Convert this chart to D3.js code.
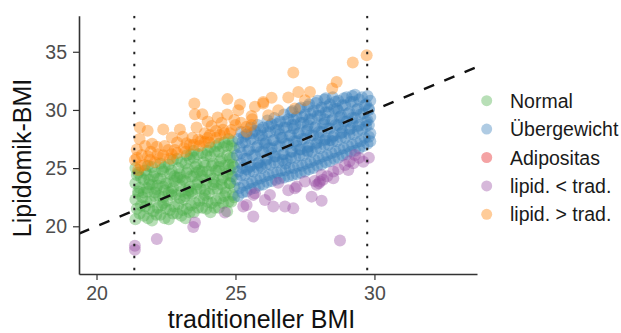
<!DOCTYPE html>
<html>
<head>
<meta charset="utf-8">
<script src="https://cdn.jsdelivr.net/npm/d3@7"></script>
<style>
    body { margin: 0; background: #fff; }
    svg { display: block; font-family: 'Liberation Sans', Arial, sans-serif; }
</style>
</head>
<body>
<svg id="chart"></svg>
<script>
// [traditioneller BMI, Lipidomik-BMI]
const normalPoints = [
    [21.4, 20.6], [21.45, 21.5], [21.4, 22.3], [21.5, 23.0], [21.4, 23.7], [21.45, 24.4], [21.4, 25.0],
    [21.7, 20.9], [21.75, 21.7], [21.65, 22.5], [21.8, 23.3], [21.7, 24.0], [21.75, 24.8],
    [22.0, 20.5], [22.05, 21.3], [21.95, 22.1], [22.1, 22.9], [22.0, 23.6], [22.05, 24.3], [22.0, 25.1],
    [22.3, 21.0], [22.35, 21.8], [22.25, 22.6], [22.4, 23.4], [22.3, 24.1], [22.35, 24.9], [22.3, 25.4],
    [22.6, 20.6], [22.65, 21.4], [22.55, 22.2], [22.7, 23.0], [22.6, 23.8], [22.65, 24.5], [22.6, 25.3],
    [22.9, 21.1], [22.95, 21.9], [22.85, 22.7], [23.0, 23.5], [22.9, 24.2], [22.95, 25.0], [22.9, 25.8],
    [23.2, 20.7], [23.25, 21.5], [23.15, 22.3], [23.3, 23.1], [23.2, 23.9], [23.25, 24.6], [23.2, 25.4], [23.25, 26.1],
    [23.5, 21.2], [23.55, 22.0], [23.45, 22.8], [23.6, 23.6], [23.5, 24.3], [23.55, 25.1], [23.5, 25.9], [23.5, 26.5],
    [23.8, 21.6], [23.85, 22.4], [23.75, 23.2], [23.9, 24.0], [23.8, 24.7], [23.85, 25.5], [23.8, 26.3],
    [24.1, 21.2], [24.15, 22.0], [24.05, 22.8], [24.2, 23.6], [24.1, 24.4], [24.15, 25.2], [24.1, 26.0], [24.1, 26.8],
    [24.4, 21.6], [24.45, 22.4], [24.35, 23.2], [24.5, 24.0], [24.4, 24.8], [24.45, 25.6], [24.4, 26.4], [24.4, 27.1],
    [24.7, 21.3], [24.75, 22.1], [24.65, 22.9], [24.8, 23.7], [24.7, 24.5], [24.75, 25.3], [24.7, 26.1], [24.7, 26.9], [24.75, 27.5],
    [24.95, 22.5], [24.95, 23.4], [24.9, 24.3], [24.95, 25.1], [24.9, 25.9], [24.95, 26.7],
    [21.55, 21.1], [21.6, 21.8], [21.5, 22.8], [21.55, 23.3], [21.6, 24.2], [21.5, 24.6],
    [21.85, 20.7], [21.9, 21.5], [21.8, 22.1], [21.85, 23.0], [21.9, 23.6], [21.8, 24.5], [21.85, 25.2],
    [22.15, 21.0], [22.2, 21.6], [22.1, 22.6], [22.15, 23.2], [22.2, 24.1], [22.1, 24.6],
    [22.45, 20.7], [22.5, 21.5], [22.4, 22.0], [22.45, 23.1], [22.5, 23.7], [22.4, 24.7], [22.45, 25.1],
    [22.75, 21.1], [22.8, 21.7], [22.7, 22.7], [22.75, 23.3], [22.8, 24.3], [22.7, 24.8], [22.75, 25.7],
    [23.05, 20.9], [23.1, 21.4], [23.0, 22.4], [23.05, 23.0], [23.1, 24.0], [23.0, 24.5], [23.05, 25.5],
    [23.35, 21.2], [23.4, 21.8], [23.3, 22.8], [23.35, 23.4], [23.4, 24.3], [23.3, 24.9], [23.35, 25.8], [23.4, 26.2],
    [23.65, 21.6], [23.7, 22.2], [23.6, 23.2], [23.65, 23.8], [23.7, 24.8], [23.6, 25.3], [23.65, 26.2],
    [23.95, 21.5], [24.0, 22.1], [23.9, 23.1], [23.95, 23.7], [24.0, 24.7], [23.9, 25.2], [23.95, 26.1], [24.0, 26.5],
    [24.25, 21.6], [24.3, 22.2], [24.2, 23.2], [24.25, 23.8], [24.3, 24.8], [24.2, 25.4], [24.25, 26.4], [24.3, 26.9],
    [24.55, 22.0], [24.6, 22.6], [24.5, 23.6], [24.55, 24.2], [24.6, 25.2], [24.5, 25.8], [24.55, 26.8], [24.6, 27.2],
    [24.85, 22.1], [24.9, 22.7], [24.8, 23.7], [24.85, 24.3], [24.9, 25.3], [24.8, 25.9], [24.85, 26.9], [24.9, 27.3],
    [21.7, 22.9], [22.2, 23.5], [22.6, 22.9], [23.0, 24.2], [23.4, 23.0], [23.8, 24.3], [24.2, 24.1], [24.6, 23.3],
    [21.9, 24.0], [22.4, 22.5], [23.2, 22.6], [23.9, 22.7], [24.4, 25.1], [22.8, 23.9], [23.6, 24.6], [24.8, 24.9]
];
const uebergewichtPoints = [
    [25.1, 22.6], [25.15, 23.3], [25.05, 24.0], [25.1, 24.7], [25.2, 25.4], [25.05, 26.1], [25.15, 26.8], [25.1, 27.5], [25.2, 28.1],
    [25.4, 23.0], [25.45, 23.7], [25.35, 24.4], [25.5, 25.1], [25.4, 25.8], [25.45, 26.5], [25.35, 27.2], [25.4, 27.9],
    [25.7, 23.3], [25.75, 24.0], [25.65, 24.7], [25.8, 25.4], [25.7, 26.1], [25.75, 26.8], [25.65, 27.5], [25.7, 28.2], [25.8, 28.7],
    [26.0, 23.6], [26.05, 24.3], [25.95, 25.0], [26.1, 25.7], [26.0, 26.4], [26.05, 27.1], [25.95, 27.8], [26.0, 28.5],
    [26.3, 23.9], [26.35, 24.6], [26.25, 25.3], [26.4, 26.0], [26.3, 26.7], [26.35, 27.4], [26.25, 28.1], [26.3, 28.8], [26.4, 29.3],
    [26.6, 24.1], [26.65, 24.8], [26.55, 25.5], [26.7, 26.2], [26.6, 26.9], [26.65, 27.6], [26.55, 28.3], [26.6, 29.0],
    [26.9, 24.3], [26.95, 25.0], [26.85, 25.7], [27.0, 26.4], [26.9, 27.1], [26.95, 27.8], [26.85, 28.5], [26.9, 29.2], [27.0, 29.8],
    [27.2, 24.5], [27.25, 25.2], [27.15, 25.9], [27.3, 26.6], [27.2, 27.3], [27.25, 28.0], [27.15, 28.7], [27.2, 29.4], [27.3, 30.1],
    [27.5, 24.7], [27.55, 25.4], [27.45, 26.1], [27.6, 26.8], [27.5, 27.5], [27.55, 28.2], [27.45, 28.9], [27.5, 29.6], [27.6, 30.3],
    [27.8, 25.0], [27.85, 25.7], [27.75, 26.4], [27.9, 27.1], [27.8, 27.8], [27.85, 28.5], [27.75, 29.2], [27.8, 29.9], [27.9, 30.6],
    [28.1, 25.3], [28.15, 26.0], [28.05, 26.7], [28.2, 27.4], [28.1, 28.1], [28.15, 28.8], [28.05, 29.5], [28.1, 30.2], [28.2, 30.9],
    [28.4, 25.6], [28.45, 26.3], [28.35, 27.0], [28.5, 27.7], [28.4, 28.4], [28.45, 29.1], [28.35, 29.8], [28.4, 30.5], [28.5, 31.1],
    [28.7, 25.9], [28.75, 26.6], [28.65, 27.3], [28.8, 28.0], [28.7, 28.7], [28.75, 29.4], [28.65, 30.1], [28.7, 30.8],
    [29.0, 26.2], [29.05, 26.9], [28.95, 27.6], [29.1, 28.3], [29.0, 29.0], [29.05, 29.7], [28.95, 30.4], [29.0, 31.1],
    [29.3, 26.5], [29.35, 27.2], [29.25, 27.9], [29.4, 28.6], [29.3, 29.3], [29.35, 30.0], [29.25, 30.7], [29.3, 31.3],
    [29.6, 26.9], [29.65, 27.6], [29.55, 28.3], [29.7, 29.0], [29.6, 29.7], [29.65, 30.4], [29.55, 31.1],
    [29.85, 27.3], [29.85, 28.0], [29.8, 28.7], [29.85, 29.4], [29.8, 30.1], [29.85, 30.8],
    [25.25, 22.9], [25.3, 23.5], [25.2, 24.4], [25.25, 25.0], [25.3, 25.8], [25.2, 26.3], [25.25, 27.2], [25.3, 27.7],
    [25.55, 23.2], [25.6, 23.8], [25.5, 24.7], [25.55, 25.2], [25.6, 26.1], [25.5, 26.6], [25.55, 27.5], [25.6, 28.0], [25.55, 28.5],
    [25.85, 23.5], [25.9, 24.1], [25.8, 25.0], [25.85, 25.5], [25.9, 26.4], [25.8, 26.9], [25.85, 27.8], [25.9, 28.3],
    [26.15, 23.8], [26.2, 24.4], [26.1, 25.3], [26.15, 25.8], [26.2, 26.7], [26.1, 27.2], [26.15, 28.1], [26.2, 28.6], [26.15, 29.1],
    [26.45, 24.0], [26.5, 24.6], [26.4, 25.5], [26.45, 26.0], [26.5, 26.9], [26.4, 27.4], [26.45, 28.3], [26.5, 28.8],
    [26.75, 24.2], [26.8, 24.8], [26.7, 25.7], [26.75, 26.2], [26.8, 27.1], [26.7, 27.6], [26.75, 28.5], [26.8, 29.0], [26.75, 29.6],
    [27.05, 24.4], [27.1, 25.0], [27.0, 25.9], [27.05, 26.4], [27.1, 27.3], [27.0, 27.8], [27.05, 28.7], [27.1, 29.2], [27.05, 29.9],
    [27.35, 24.6], [27.4, 25.2], [27.3, 26.1], [27.35, 26.6], [27.4, 27.5], [27.3, 28.0], [27.35, 28.9], [27.4, 29.4], [27.35, 30.2],
    [27.65, 24.9], [27.7, 25.5], [27.6, 26.4], [27.65, 26.9], [27.7, 27.8], [27.6, 28.3], [27.65, 29.2], [27.7, 29.7], [27.65, 30.5],
    [27.95, 25.2], [28.0, 25.8], [27.9, 26.7], [27.95, 27.2], [28.0, 28.1], [27.9, 28.6], [27.95, 29.5], [28.0, 30.0], [27.95, 30.8],
    [28.25, 25.5], [28.3, 26.1], [28.2, 27.0], [28.25, 27.5], [28.3, 28.4], [28.2, 28.9], [28.25, 29.8], [28.3, 30.3], [28.25, 31.0],
    [28.55, 25.8], [28.6, 26.4], [28.5, 27.3], [28.55, 27.8], [28.6, 28.7], [28.5, 29.2], [28.55, 30.1], [28.6, 30.7],
    [28.85, 26.1], [28.9, 26.7], [28.8, 27.6], [28.85, 28.1], [28.9, 29.0], [28.8, 29.5], [28.85, 30.4], [28.9, 31.0],
    [29.15, 26.4], [29.2, 27.0], [29.1, 27.9], [29.15, 28.4], [29.2, 29.3], [29.1, 29.8], [29.15, 30.7], [29.2, 31.2],
    [29.45, 26.7], [29.5, 27.3], [29.4, 28.2], [29.45, 28.7], [29.5, 29.6], [29.4, 30.1], [29.45, 30.9],
    [29.75, 27.1], [29.8, 27.7], [29.7, 28.6], [29.75, 29.1], [29.8, 30.0], [29.7, 30.5], [29.75, 31.2],
    [25.4, 24.9], [25.9, 25.2], [26.3, 26.3], [26.8, 25.4], [27.2, 26.9], [27.6, 26.5], [28.0, 27.6], [28.4, 27.4],
    [28.8, 28.5], [29.2, 28.9], [26.0, 27.4], [26.6, 27.9], [27.1, 28.4], [27.6, 28.7], [28.2, 29.2], [28.7, 29.9]
];
const adipositasPoints = [];
const lipidLowerPoints = [
    [24.62, 21.18], [23.54, 20.33], [23.48, 19.93], [22.17, 18.9], [21.38, 18.33], [21.38, 17.99],
    [25.28, 21.7], [25.64, 20.84], [25.64, 22.7], [26.54, 23.75], [27.2, 23.41], [27.5, 23.84],
    [28.04, 23.84], [28.1, 24.41], [28.52, 24.7], [28.94, 25.27], [29.3, 26.13], [29.24, 25.42],
    [29.6, 25.55], [29.06, 24.84], [28.52, 24.13], [27.74, 22.55], [28.1, 22.19], [25.7, 22.84],
    [26.06, 22.27], [26.24, 22.7], [26.36, 21.7], [26.78, 21.7], [27.08, 21.56], [25.4, 21.84],
    [28.76, 18.78], [27.14, 23.27], [27.92, 23.56], [28.0, 23.7], [28.15, 24.0], [29.8, 25.9],
    [28.3, 24.3], [28.7, 24.9], [29.1, 25.6], [29.45, 25.9], [27.85, 23.9], [26.9, 23.1]
];
const lipidHigherPoints = [
    [23.52, 30.56], [24.71, 30.93], [25.16, 30.47], [23.54, 29.64], [23.81, 29.64], [24.36, 29.36],
    [25.1, 29.98], [24.96, 29.13], [21.56, 28.5], [21.84, 28.21], [22.4, 28.33], [23.0, 28.33],
    [23.6, 28.5], [24.14, 28.61], [22.71, 27.64], [24.08, 27.84], [24.86, 28.27], [23.24, 27.13],
    [23.66, 27.47], [22.17, 26.84], [22.58, 26.56], [21.63, 26.13], [25.58, 29.47], [25.4, 28.12],
    [26.0, 30.69], [26.3, 31.04], [21.5, 24.84], [21.74, 25.27], [21.38, 25.7], [21.92, 25.7],
    [22.28, 25.87], [22.82, 26.56], [23.36, 26.98], [23.9, 27.24], [24.44, 27.84],
    [27.08, 33.21], [29.22, 34.07], [29.72, 34.7], [28.64, 32.41], [28.48, 31.84], [27.26, 31.55],
    [27.68, 31.55], [26.9, 31.07], [27.5, 30.84], [26.0, 30.56], [25.7, 30.27], [26.54, 29.98],
    [27.14, 30.13], [26.18, 29.55], [25.58, 28.7], [25.4, 28.55],
    [22.0, 27.1], [23.1, 27.7], [23.9, 28.0], [24.5, 28.9], [24.0, 29.0],
    [21.45, 26.6], [21.55, 27.5], [21.75, 26.9], [21.95, 26.4], [22.2, 26.2], [22.45, 26.9],
    [22.7, 26.2], [22.9, 27.2], [23.15, 26.7], [23.45, 27.6], [23.7, 26.9], [24.0, 27.6],
    [24.3, 28.2], [24.6, 28.0], [24.7, 29.6], [25.0, 28.7],
    [21.45, 25.9], [21.6, 25.2], [21.85, 26.0], [22.1, 25.5], [22.4, 26.1], [22.65, 25.8],
    [22.9, 26.3], [23.2, 26.4], [23.5, 27.0], [23.75, 27.3], [24.05, 27.2], [24.3, 27.6],
    [24.55, 28.3], [24.8, 28.0], [25.2, 28.9], [25.6, 29.2]
];

const groupNames = ['Normal', 'Übergewicht', 'Adipositas', 'lipid. < trad.', 'lipid. > trad.'];
const groupColors = ['#4daf4a', '#377eb8', '#e41a1c', '#984ea3', '#ff7f00'];
const cutoffs = [21.36, 29.74];
const xTicks = [20, 25, 30];
const yTicks = [20, 25, 30, 35];

const margin = { top: 15.7, right: 144, bottom: 59, left: 79 };
const w = 621;
const h = 333;
const width = w - margin.left - margin.right;
const height = h - margin.top - margin.bottom;

const root = d3.select('#chart').attr('width', w).attr('height', h);
const svg = root.append('g')
    .attr('transform', 'translate(' + margin.left + ',' + margin.top + ')');

const x = d3.scaleLinear().domain([19.37, 33.69]).range([0, width]);
const y = d3.scaleLinear().domain([15.9, 38.1]).range([height, 0]);
const color = d3.scaleOrdinal().domain(groupNames).range(groupColors);

svg.append('clipPath').attr('id', 'panel')
    .append('rect').attr('width', width).attr('height', height);

const plot = svg.append('g').attr('clip-path', 'url(#panel)');

const groups = [
    { name: 'Normal', points: normalPoints },
    { name: 'Übergewicht', points: uebergewichtPoints },
    { name: 'Adipositas', points: adipositasPoints },
    { name: 'lipid. < trad.', points: lipidLowerPoints },
    { name: 'lipid. > trad.', points: lipidHigherPoints }
];

groups.forEach(function(g) {
    plot.append('g').selectAll('circle')
        .data(g.points)
        .enter().append('circle')
        .attr('cx', function(d) { return x(d[0]); })
        .attr('cy', function(d) { return y(d[1]); })
        .attr('r', 6)
        .attr('fill', color(g.name))
        .attr('fill-opacity', 0.4);
});

// identity line
const line = d3.line().x(function(d) { return x(d); }).y(function(d) { return y(d); });
plot.append('path')
    .datum(x.domain())
    .attr('d', line)
    .attr('fill', 'none')
    .attr('stroke', '#111')
    .attr('stroke-width', 2.4)
    .attr('stroke-dasharray', '11,11');

plot.selectAll('line.cutoff')
    .data(cutoffs)
    .enter().append('line')
    .attr('class', 'cutoff')
    .attr('x1', function(d) { return x(d); })
    .attr('x2', function(d) { return x(d); })
    .attr('y1', 0)
    .attr('y2', height)
    .attr('stroke', '#222')
    .attr('stroke-width', 2)
    .attr('stroke-dasharray', '2.5,9.5');

// axes
const xAxis = d3.axisBottom(x).tickValues(xTicks).tickSize(6).tickSizeOuter(0).tickPadding(6.5);
const yAxis = d3.axisLeft(y).tickValues(yTicks).tickSize(6).tickSizeOuter(0).tickPadding(6);

const gx = svg.append('g').attr('transform', 'translate(0,' + height + ')').call(xAxis);
const gy = svg.append('g').call(yAxis);

[gx, gy].forEach(function(g) {
    g.select('.domain').attr('stroke', '#333').attr('stroke-width', 1.6);
    g.selectAll('.tick line').attr('stroke', '#333').attr('stroke-width', 1.2);
    g.selectAll('.tick text')
        .attr('fill', '#4d4d4d')
        .style('font-size', '19.5px')
        .style('font-family', "'Liberation Sans', Arial, sans-serif");
});

root.append('text')
    .attr('x', 261.5)
    .attr('y', 328)
    .attr('text-anchor', 'middle')
    .style('font-size', '25px')
    .attr('fill', '#111')
    .text('traditioneller BMI');

root.append('text')
    .attr('transform', 'translate(31,158) rotate(-90)')
    .attr('text-anchor', 'middle')
    .style('font-size', '25px')
    .attr('fill', '#111')
    .text('Lipidomik-BMI');

// legend
const legend = root.append('g').selectAll('g')
    .data(groupNames)
    .enter().append('g')
    .attr('transform', function(d, i) { return 'translate(486.7,' + (100.7 + i * 28.4) + ')'; });

legend.append('circle')
    .attr('r', 5.5)
    .attr('fill', function(d) { return color(d); })
    .attr('fill-opacity', 0.4);

legend.append('text')
    .attr('x', 23.3)
    .attr('y', 7)
    .style('font-size', '19.5px')
    .attr('fill', '#1a1a1a')
    .text(function(d) { return d; });
</script>
</body>
</html>
